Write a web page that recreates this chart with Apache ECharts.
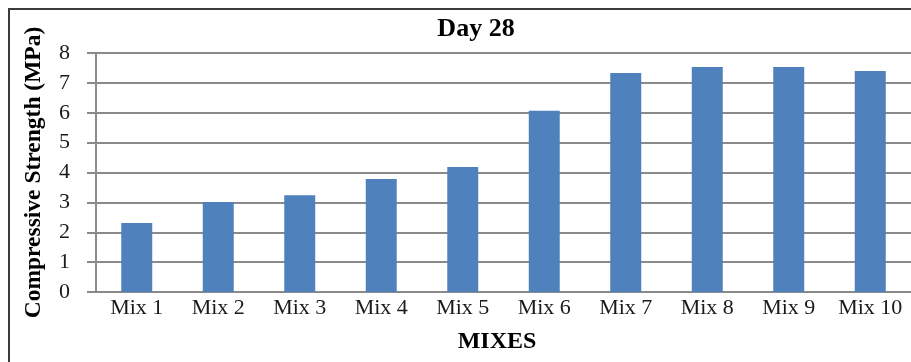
<!DOCTYPE html>
<html>
<head>
<meta charset="utf-8">
<script src="https://cdn.jsdelivr.net/npm/echarts@6/dist/echarts.min.js"></script>
<style>
  html, body { margin: 0; padding: 0; background: #ffffff; }
  #chart { width: 911px; height: 362px; }
</style>
</head>
<body>
<div id="chart"></div>
<script>
// Day 28 compressive strength per mix
const categories = ['Mix 1', 'Mix 2', 'Mix 3', 'Mix 4', 'Mix 5', 'Mix 6', 'Mix 7', 'Mix 8', 'Mix 9', 'Mix 10'];
const strength = [2.31, 3.01, 3.24, 3.78, 4.18, 6.07, 7.33, 7.53, 7.53, 7.40];
const yTicks = { min: 0, max: 8, interval: 1 };

const serif = '"Liberation Serif", "Times New Roman", serif';
const gridColor = '#8a8a8a';

const chart = echarts.init(document.getElementById('chart'), null, { renderer: 'canvas' });

chart.setOption({
  animation: false,
  backgroundColor: '#ffffff',
  title: {
    text: 'Day 28',
    left: 471,
    top: 11,
    textAlign: 'center',
    textStyle: { fontFamily: serif, fontSize: 26, fontWeight: 'bold', color: '#000000' }
  },
  graphic: [{
    type: 'rect',
    shape: { x: 9, y: 9, width: 940, height: 400 },
    style: { fill: 'none', stroke: '#3a3a3a', lineWidth: 2 },
    silent: true,
    z: 100
  }],
  grid: { left: 96, right: 0, top: 53, bottom: 70, containLabel: false },
  xAxis: {
    type: 'category',
    data: categories,
    name: 'MIXES',
    nameLocation: 'middle',
    nameGap: 38,
    nameTextStyle: { fontFamily: serif, fontSize: 24, fontWeight: 'bold', color: '#000000', padding: [0, 13, 0, 0] },
    axisLine: { lineStyle: { color: gridColor, width: 2 } },
    axisTick: { show: false },
    axisLabel: { fontFamily: serif, fontSize: 22, color: '#1a1a1a', margin: 5, interval: 0 }
  },
  yAxis: {
    type: 'value',
    min: yTicks.min,
    max: yTicks.max,
    interval: yTicks.interval,
    name: 'Compressive Strength (MPa)',
    nameLocation: 'middle',
    nameGap: 50,
    nameTextStyle: { fontFamily: serif, fontSize: 23.5, fontWeight: 'bold', color: '#000000' },
    axisLine: { show: true, lineStyle: { color: gridColor, width: 2 } },
    axisTick: { show: true, length: 9, lineStyle: { color: gridColor, width: 2 } },
    axisLabel: { fontFamily: serif, fontSize: 22, color: '#1a1a1a', margin: 26 },
    splitLine: { show: true, lineStyle: { color: gridColor, width: 2 } }
  },
  series: [{
    type: 'bar',
    data: strength,
    barWidth: '38%',
    itemStyle: { color: '#4f81bd' }
  }]
});
</script>
</body>
</html>
